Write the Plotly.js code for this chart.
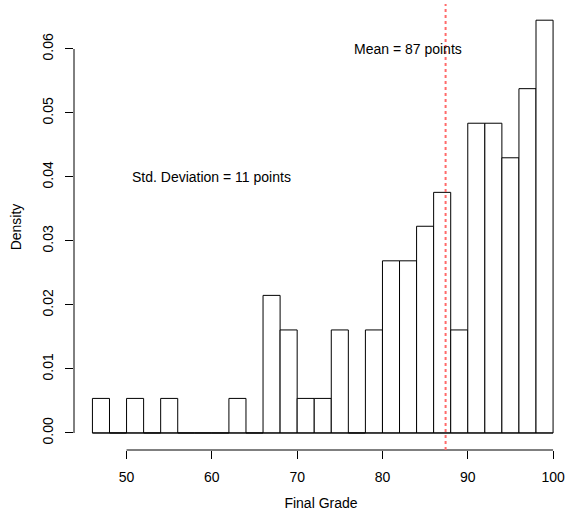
<!DOCTYPE html>
<html>
<head>
<meta charset="utf-8">
<script src="https://cdn.plot.ly/plotly-3.0.1.min.js"></script>
<style>html,body{margin:0;padding:0;background:#fff;}#chart{width:568px;height:518px;}</style>
</head>
<body>
<div id="chart"></div>
<script>
// Histogram of final grades (bins of width 2, density scale)
const binStart = [46,48,50,52,54,56,58,60,62,64,66,68,70,72,74,76,78,80,82,84,86,88,90,92,94,96,98];
const binWidth = 2;
const density = [0.0054,0,0.0054,0,0.0054,0,0,0,0.0054,0,0.0215,0.0161,0.0054,0.0054,0.0161,0,0.0161,0.0269,0.0269,0.0323,0.0376,0.0161,0.0484,0.0484,0.043,0.0538,0.0645];
const meanGrade = 87.4;
const xTicks = [50,60,70,80,90,100];
const xTickText = ['50','60','70','80','90','100'];
const yTicks = [0,0.01,0.02,0.03,0.04,0.05,0.06];
const yTickText = ['0.00','0.01','0.02','0.03','0.04','0.05','0.06'];
const meanLabel = {x: 83, y: 0.06, text: 'Mean = 87 points'};
const sdLabel = {x: 60, y: 0.04, text: 'Std. Deviation = 11 points'};

const font = {family: 'Liberation Sans, Arial, Helvetica, sans-serif', size: 14, color: '#000'};
const lastEdge = binStart[binStart.length-1] + binWidth;

const traces = [
  {
    type: 'bar', x: binStart, y: density, width: binWidth, offset: 0,
    marker: {color: '#fff', line: {color: '#000', width: 1}},
    hoverinfo: 'x+y', showlegend: false
  },
  {
    type: 'scatter', mode: 'lines', x: [binStart[0], lastEdge], y: [0, 0],
    line: {color: '#000', width: 1}, hoverinfo: 'skip', showlegend: false
  }
];

const layout = {
  width: 568, height: 518,
  margin: {l: 74, r: 0, t: 4, b: 68},
  paper_bgcolor: '#fff', plot_bgcolor: '#fff',
  font: font,
  bargap: 0,
  showlegend: false,
  xaxis: {
    range: [43.84, 101.75], showgrid: false, zeroline: false, showline: false,
    ticks: 'outside', ticklen: 8, tickwidth: 1, tickcolor: '#000',
    tickmode: 'array', tickvals: xTicks, ticktext: xTickText,
    tickfont: font, ticklabelstandoff: 6,
    title: {text: 'Final Grade', font: font, standoff: 14}
  },
  yaxis: {
    range: [-0.00266, 0.06703], showgrid: false, zeroline: false, showline: false,
    ticks: 'outside', ticklen: 8, tickwidth: 1, tickcolor: '#000',
    tickmode: 'array', tickvals: yTicks, ticktext: yTickText, tickangle: -90,
    tickfont: font, ticklabelstandoff: 6,
    title: {text: 'Density', font: font, standoff: 15}
  },
  shapes: [
    {type: 'line', xref: 'x', yref: 'paper', x0: xTicks[0], x1: xTicks[xTicks.length-1], y0: 0, y1: 0,
     line: {color: '#000', width: 1}},
    {type: 'line', xref: 'paper', yref: 'y', x0: 0, x1: 0, y0: yTicks[0], y1: yTicks[yTicks.length-1],
     line: {color: '#000', width: 1}},
    {type: 'line', xref: 'x', yref: 'paper', x0: meanGrade, x1: meanGrade, y0: 0, y1: 1,
     line: {color: '#ff6b6b', width: 2, dash: 'dot'}}
  ],
  annotations: [
    {x: meanLabel.x, y: meanLabel.y, xref: 'x', yref: 'y', text: meanLabel.text, showarrow: false, font: font, xanchor: 'center', yanchor: 'middle'},
    {x: sdLabel.x, y: sdLabel.y, xref: 'x', yref: 'y', text: sdLabel.text, showarrow: false, font: font, xanchor: 'center', yanchor: 'middle'}
  ]
};

Plotly.newPlot('chart', traces, layout, {displayModeBar: false, staticPlot: true});
</script>
</body>
</html>
